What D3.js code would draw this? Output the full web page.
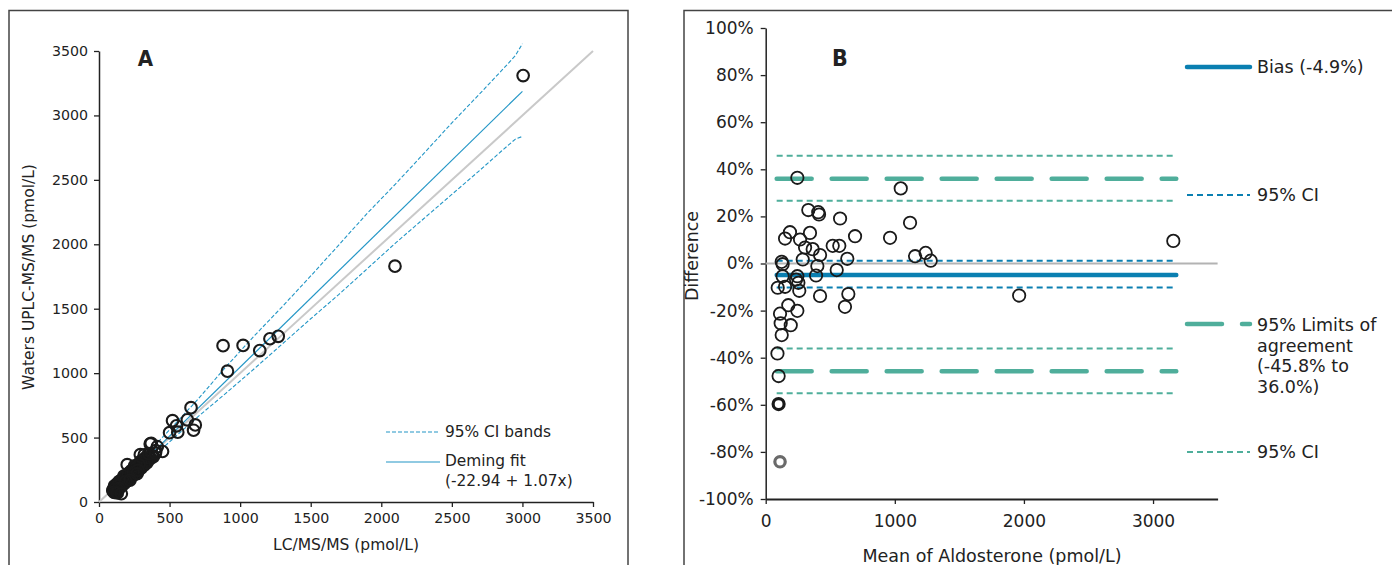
<!DOCTYPE html>
<html>
<head>
<meta charset="utf-8">
<script src="https://cdn.jsdelivr.net/npm/d3@7"></script>
<style>
  html, body { margin: 0; padding: 0; background: #fff; }
  svg { display: block; font-family: "DejaVu Sans", Verdana, sans-serif; }
</style>
</head>
<body>
<svg id="chart" width="1392" height="565"></svg>
<script>
// ---------- Panel A data ----------
const aTicks = [0, 500, 1000, 1500, 2000, 2500, 3000, 3500];
const aLcms = [200, 879, 293, 363, 370, 521, 1021, 176, 321, 142, 252, 652, 910, 3005, 295, 353, 500, 549, 413, 1139, 1211, 1270, 626, 285, 124, 131, 402, 558, 135, 252, 400, 243, 263, 98, 157, 275, 450, 682, 190, 670, 123, 270, 131, 219, 143, 108, 124, 130, 158, 2097];
const aUplc = [290, 1213, 367, 451, 456, 631, 1215, 201, 365, 158, 280, 732, 1015, 3309, 315, 375, 538, 591, 429, 1175, 1267, 1286, 638, 289, 124, 131, 398, 542, 127, 238, 380, 227, 243, 88, 143, 245, 392, 598, 160, 557, 99, 220, 101, 169, 105, 74, 76, 70, 64, 1830];
// dense overlapping cluster of low-concentration samples (blob in panel A)
const aClusterLcms = [100, 105, 112, 118, 125, 132, 138, 145, 150, 160, 165, 172, 180, 188, 195, 202, 210, 218, 225, 232, 240, 248, 255, 262, 270, 278, 285, 292, 300, 310, 318, 326, 335, 345, 355, 365, 375, 385,
  110, 128, 148, 168, 188, 208, 228, 248, 268, 288, 308, 328, 348,
  120, 140, 160, 180, 200, 220, 240, 260, 280, 300, 320, 340];
const aClusterUplc = [95, 80, 110, 90, 118, 112, 128, 120, 145, 140, 160, 150, 175, 168, 190, 185, 205, 195, 220, 212, 235, 228, 250, 242, 268, 258, 280, 272, 298, 292, 315, 305, 330, 322, 345, 338, 360, 352,
  125, 140, 160, 180, 200, 222, 242, 262, 282, 302, 322, 342, 362,
  88, 105, 125, 145, 165, 185, 205, 225, 245, 265, 285, 305];
const ciX     = [90, 300, 500, 700, 900, 1100, 1300, 1500, 1700, 1900, 2100, 2300, 2500, 2700, 2850, 2950, 3000];
const ciUpper = [100, 328, 560, 796, 1050, 1289, 1518, 1754, 1996, 2240, 2467, 2703, 2942, 3171, 3345, 3464, 3557];
const ciLower = [60, 268, 467, 661, 845, 1034, 1228, 1422, 1611, 1810, 2009, 2198, 2387, 2576, 2722, 2816, 2837];
const fitX = [90, 3000];
const fitY = [73, 3187];
const identity = [0, 3500];

// ---------- Panel B data ----------
const bXTicks = [0, 1000, 2000, 3000];
const bYTicks = [-100, -80, -60, -40, -20, 0, 20, 40, 60, 80, 100];
const bMean = [245, 1046, 330, 407, 413, 576, 1118, 188, 343, 150, 266, 692, 963, 3157, 305, 364, 519, 570, 421, 1157, 1239, 1278, 632, 287, 124, 131, 400, 550, 131, 245, 390, 235, 253, 93, 150, 260, 421, 640, 175, 614, 111, 245, 116, 194, 124, 91, 100, 1963];
const bDiff = [36.4, 31.9, 22.7, 21.8, 20.8, 19.1, 17.3, 13.3, 13.0, 10.6, 10.2, 11.6, 10.9, 9.6, 6.8, 6.1, 7.5, 7.5, 3.6, 3.1, 4.5, 1.2, 2.0, 1.7, 0.7, -0.3, -1.1, -2.8, -5.4, -5.4, -5.1, -6.8, -8.2, -10.3, -9.9, -11.6, -13.8, -13.0, -17.7, -18.4, -21.3, -20.1, -25.4, -26.2, -30.4, -38.2, -47.8, -13.6];
const bHeavyMean = [100];
const bHeavyDiff = [-59.7];
const bFadedMean = [111];
const bFadedDiff = [-84.2];
const bias = -4.9;
const biasCI = [1.2, -10.2];
const loa = [36.0, -45.8];
const loaCI = [45.8, 26.6, -36.1, -55.1];
const bLineRange = [85, 3180];

// ---------- drawing ----------
const svg = d3.select("#chart");
const ink = "#222";
const blueA = "#2396c6";
const blueB = "#0a7fb1";
const teal = "#4fae9b";
const plain = d3.format("d");

// frames
svg.append("rect").attr("x", 9).attr("y", 10.5).attr("width", 619).attr("height", 620)
  .attr("fill", "none").attr("stroke", "#444").attr("stroke-width", 1.5);
svg.append("rect").attr("x", 684).attr("y", 10.5).attr("width", 800).attr("height", 620)
  .attr("fill", "none").attr("stroke", "#444").attr("stroke-width", 1.5);

// ===== Panel A =====
const xA = d3.scaleLinear().domain([0, 3500]).range([99, 593]);
const yA = d3.scaleLinear().domain([0, 3500]).range([502, 51]);
const gA = svg.append("g");

function styleAxis(g, fs) {
  g.select(".domain").attr("stroke", ink).attr("stroke-width", 1.5);
  g.selectAll(".tick line").attr("stroke", ink).attr("stroke-width", 1.3);
  g.selectAll(".tick text").attr("fill", ink).attr("font-size", fs)
    .attr("font-family", "DejaVu Sans, Verdana, sans-serif");
}

const axAx = gA.append("g").attr("transform", "translate(0,502)")
  .call(d3.axisBottom(xA).tickValues(aTicks).tickFormat(plain).tickSize(5).tickPadding(6).tickSizeOuter(0));
styleAxis(axAx, 14.2);
const axAy = gA.append("g").attr("transform", "translate(99,0)")
  .call(d3.axisLeft(yA).tickValues(aTicks).tickFormat(plain).tickSize(5).tickPadding(6).tickSizeOuter(0));
styleAxis(axAy, 14.2);

// identity line
gA.append("line")
  .attr("x1", xA(identity[0])).attr("y1", yA(identity[0]))
  .attr("x2", xA(identity[1])).attr("y2", yA(identity[1]))
  .attr("stroke", "#c9c9c9").attr("stroke-width", 2);

// CI bands
const bandLine = (arr) => d3.line().x((d, i) => xA(ciX[i])).y((d, i) => yA(arr[i]))(arr);
[ciUpper, ciLower].forEach(arr => {
  gA.append("path").attr("d", bandLine(arr)).attr("fill", "none")
    .attr("stroke", blueA).attr("stroke-width", 1.1).attr("stroke-dasharray", "4,2");
});
// fit
gA.append("line")
  .attr("x1", xA(fitX[0])).attr("y1", yA(fitY[0]))
  .attr("x2", xA(fitX[1])).attr("y2", yA(fitY[1]))
  .attr("stroke", blueA).attr("stroke-width", 1.2);

// points
function pointsA(xs, ys) {
  gA.append("g").selectAll("circle").data(xs).join("circle")
    .attr("cx", (d) => xA(d)).attr("cy", (d, i) => yA(ys[i])).attr("r", 5.8)
    .attr("fill", "none").attr("stroke", "#1a1a1a").attr("stroke-width", 2.1);
}
pointsA(aClusterLcms, aClusterUplc);
pointsA(aLcms, aUplc);

// labels
gA.append("text").attr("x", 346).attr("y", 550).attr("text-anchor", "middle")
  .attr("font-size", 15.5).attr("fill", ink).text("LC/MS/MS (pmol/L)");
gA.append("text").attr("transform", "translate(33.5,277) rotate(-90)").attr("text-anchor", "middle")
  .attr("font-size", 15.5).attr("fill", ink).text("Waters UPLC-MS/MS (pmol/L)");
gA.append("text").attr("x", 145.5).attr("y", 66).attr("text-anchor", "middle")
  .attr("font-size", 22).attr("font-weight", "bold").attr("fill", ink)
  .attr("font-family", "DejaVu Sans Condensed, DejaVu Sans, sans-serif").text("A");

// legend A
gA.append("line").attr("x1", 386).attr("x2", 440).attr("y1", 432).attr("y2", 432)
  .attr("stroke", blueA).attr("stroke-width", 1.1).attr("stroke-dasharray", "4,2");
gA.append("text").attr("x", 445).attr("y", 432).attr("dy", "0.35em")
  .attr("font-size", 15.4).attr("fill", ink).text("95% CI bands");
gA.append("line").attr("x1", 386).attr("x2", 440).attr("y1", 462).attr("y2", 462)
  .attr("stroke", blueA).attr("stroke-width", 1.2);
gA.append("text").attr("x", 445).attr("y", 461).attr("dy", "0.35em")
  .attr("font-size", 15.4).attr("fill", ink).text("Deming fit");
gA.append("text").attr("x", 445).attr("y", 481).attr("dy", "0.35em")
  .attr("font-size", 15.4).attr("fill", ink).text("(-22.94 + 1.07x)");

// ===== Panel B =====
const xB = d3.scaleLinear().domain([0, 3500]).range([765.7, 1217.6]);
const yB = d3.scaleLinear().domain([-100, 100]).range([499, 28]);
const gB = svg.append("g");

const axBx = gB.append("g").attr("transform", "translate(0,499)")
  .call(d3.axisBottom(xB).tickValues(bXTicks).tickFormat(plain).tickSize(5).tickPadding(11).tickSizeOuter(0));
styleAxis(axBx, 17);
axBx.select(".domain").attr("stroke-width", 2);
const axBy = gB.append("g").attr("transform", "translate(765.7,0)")
  .call(d3.axisLeft(yB).tickValues(bYTicks).tickSize(5).tickPadding(7).tickSizeOuter(0)
    .tickFormat(d => d + "%"));
styleAxis(axBy, 17);

// zero line
gB.append("line").attr("x1", xB(0)).attr("x2", xB(3500)).attr("y1", yB(0)).attr("y2", yB(0))
  .attr("stroke", "#b3b3b3").attr("stroke-width", 2);

function hline(v, color, w, dash, cap) {
  gB.append("line").attr("x1", xB(bLineRange[0])).attr("x2", xB(bLineRange[1]))
    .attr("y1", yB(v)).attr("y2", yB(v))
    .attr("stroke", color).attr("stroke-width", w)
    .attr("stroke-dasharray", dash).attr("stroke-linecap", cap);
}
loaCI.forEach(v => hline(v, teal, 2, "6,4", "butt"));
loa.forEach(v => hline(v, teal, 4.5, "35,20", "round"));
biasCI.forEach(v => hline(v, blueB, 2, "6,4", "butt"));
hline(bias, blueB, 4.5, null, "round");

// points
gB.append("g").selectAll("circle").data(bMean).join("circle")
  .attr("cx", d => xB(d)).attr("cy", (d, i) => yB(bDiff[i])).attr("r", 6.2)
  .attr("fill", "none").attr("stroke", "#1a1a1a").attr("stroke-width", 1.8);
gB.append("g").selectAll("circle").data(bHeavyMean).join("circle")
  .attr("cx", d => xB(d)).attr("cy", (d, i) => yB(bHeavyDiff[i])).attr("r", 5.5)
  .attr("fill", "#fff").attr("stroke", "#1a1a1a").attr("stroke-width", 3.2);
gB.append("g").selectAll("circle").data(bFadedMean).join("circle")
  .attr("cx", d => xB(d)).attr("cy", (d, i) => yB(bFadedDiff[i])).attr("r", 5.2)
  .attr("fill", "#fff").attr("stroke", "#6a6a6a").attr("stroke-width", 3.2);

// labels
gB.append("text").attr("x", 992).attr("y", 562).attr("text-anchor", "middle")
  .attr("font-size", 17.5).attr("fill", ink).text("Mean of Aldosterone (pmol/L)");
gB.append("text").attr("transform", "translate(698,256) rotate(-90)").attr("text-anchor", "middle")
  .attr("font-size", 17.5).attr("fill", ink).text("Difference");
gB.append("text").attr("x", 840).attr("y", 66).attr("text-anchor", "middle")
  .attr("font-size", 23).attr("font-weight", "bold").attr("fill", ink)
  .attr("font-family", "DejaVu Sans Condensed, DejaVu Sans, sans-serif").text("B");

// legend B
function legLine(y, color, w, dash, cap) {
  gB.append("line").attr("x1", 1187).attr("x2", 1250).attr("y1", y).attr("y2", y)
    .attr("stroke", color).attr("stroke-width", w)
    .attr("stroke-dasharray", dash).attr("stroke-linecap", cap);
}
function legText(y, t) {
  gB.append("text").attr("x", 1257).attr("y", y).attr("dy", "0.35em")
    .attr("font-size", 17.5).attr("fill", ink).text(t);
}
legLine(67, blueB, 4.5, null, "round");
legText(67, "Bias (-4.9%)");
legLine(195, blueB, 2, "6,4", "butt");
legText(195, "95% CI");
legLine(324, teal, 4.5, "35,20", "round");
legText(325, "95% Limits of");
legText(345.5, "agreement");
legText(366, "(-45.8% to");
legText(387, "36.0%)");
legLine(452, teal, 2, "6,4", "butt");
legText(452, "95% CI");
</script>
</body>
</html>
